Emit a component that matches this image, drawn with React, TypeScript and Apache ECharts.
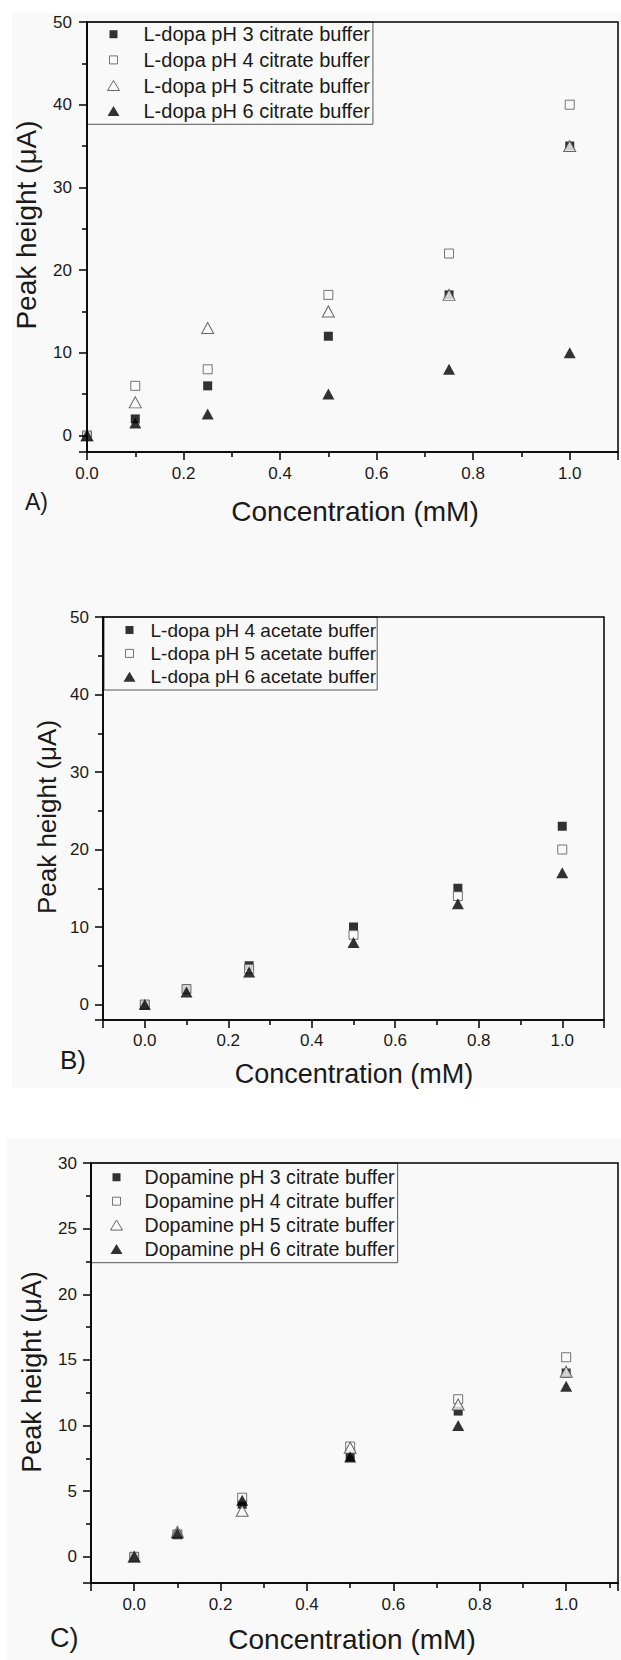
import React, { useEffect, useRef } from "react";
import * as echarts from "echarts";

// ---------- data ----------
const conc = [0, 0.1, 0.25, 0.5, 0.75, 1.0];

// Panel A: L-dopa in citrate buffer
const aNames = [
  "L-dopa pH 3 citrate buffer",
  "L-dopa pH 4 citrate buffer",
  "L-dopa pH 5 citrate buffer",
  "L-dopa pH 6 citrate buffer",
];
const aPH3 = [0, 2, 6, 12, 17, 35];
const aPH4 = [0, 6, 8, 17, 22, 40];
const aPH5 = [0, 4, 13, 15, 17, 35];
const aPH6 = [0, 1.5, 2.6, 5, 8, 10];

// Panel B: L-dopa in acetate buffer
const bNames = [
  "L-dopa pH 4 acetate buffer",
  "L-dopa pH 5 acetate buffer",
  "L-dopa pH 6 acetate buffer",
];
const bPH4 = [0, 2, 5, 10, 15, 23];
const bPH5 = [0, 2, 4.6, 9, 14, 20];
const bPH6 = [0, 1.6, 4.2, 8, 13, 17];

// Panel C: Dopamine in citrate buffer
const cNames = [
  "Dopamine pH 3 citrate buffer",
  "Dopamine pH 4 citrate buffer",
  "Dopamine pH 5 citrate buffer",
  "Dopamine pH 6 citrate buffer",
];
const cPH3 = [0, 1.7, 4.0, 7.6, 11.1, 14.0];
const cPH4 = [0, 1.7, 4.5, 8.4, 12.0, 15.2];
const cPH5 = [0, 1.9, 3.5, 8.3, 11.6, 14.1];
const cPH6 = [0, 1.8, 4.3, 7.6, 10.0, 13.0];

const xTitle = "Concentration (mM)";
const yTitle = "Peak height (\u03bcA)";
const panelLabels = ["A)", "B)", "C)"];

// axis ranges
const xRanges = [
  [0, 1.1],
  [-0.1, 1.1],
  [-0.1, 1.12],
];
const yRanges = [
  [-2, 50],
  [-2, 50],
  [-2, 30],
];
const xLabelStep = 0.2;
const yLabelSteps = [10, 10, 5];

// ---------- styles ----------
const BG = "#f9f9f9";
const FONT = "'Liberation Sans', Arial, sans-serif";
const TXT = "#1a1a1a";

type Kind = "fsq" | "osq" | "otri" | "ftri";
const kindStyle: Record<Kind, any> = {
  fsq: { symbol: "rect", size: 9, itemStyle: { color: "#000", borderWidth: 0 } },
  osq: { symbol: "rect", size: 9, itemStyle: { color: BG, borderColor: "#555", borderWidth: 1 } },
  otri: { symbol: "triangle", size: [12, 11], itemStyle: { color: BG, borderColor: "#444", borderWidth: 1 } },
  ftri: { symbol: "triangle", size: [12, 11], itemStyle: { color: "#000", borderWidth: 0 } },
};

// legend icon as a path whose bounding box equals the legend item box (W x H),
// so that no stretching happens; the marker sits centred in it.
function legendIcon(kind: Kind, W: number, H: number) {
  const cx = W / 2;
  const cy = H / 2;
  const frame = `M0,0L0,0ZM${W},${H}L${W},${H}Z`;
  let shape = "";
  if (kind === "fsq" || kind === "osq") {
    const h = 4;
    shape = `M${cx - h},${cy - h}L${cx + h},${cy - h}L${cx + h},${cy + h}L${cx - h},${cy + h}Z`;
  } else {
    shape = `M${cx},${cy - 5}L${cx + 6},${cy + 5}L${cx - 6},${cy + 5}Z`;
  }
  return `path://${frame}${shape}`;
}

function mkSeries(name: string, vals: number[], idx: number, kind: Kind) {
  const k = kindStyle[kind];
  return {
    type: "scatter",
    name,
    xAxisIndex: idx,
    yAxisIndex: idx,
    data: conc.map((c, i) => [c, vals[i]]),
    symbol: k.symbol,
    symbolSize: k.size,
    itemStyle: k.itemStyle,
    clip: false,
    emphasis: { disabled: true },
  };
}

const LEG_H = 12;
function mkLegend(names: string[], kinds: Kind[], cfg: any) {
  return {
    orient: "vertical",
    left: cfg.left,
    top: cfg.top,
    padding: cfg.padding,
    itemWidth: cfg.itemWidth,
    itemHeight: LEG_H,
    itemGap: cfg.gap,
    borderColor: "#555",
    borderWidth: 1,
    backgroundColor: BG,
    selectedMode: false,
    z: 2,
    textStyle: { fontSize: cfg.fontSize, lineHeight: cfg.lineHeight, color: TXT, fontFamily: FONT },
    data: names.map((n, i) => ({
      name: n,
      icon: legendIcon(kinds[i], cfg.itemWidth, LEG_H),
      itemStyle: kindStyle[kinds[i]].itemStyle,
    })),
  };
}

const xFmt = (v: number) => {
  const k = v / xLabelStep;
  return Math.abs(k - Math.round(k)) < 1e-6 ? (Math.abs(v) < 1e-9 ? 0 : v).toFixed(1) : "";
};
const yFmt = (step: number) => (v: number) => {
  const k = v / step;
  return Math.abs(k - Math.round(k)) < 1e-6 ? String(Math.round(v)) : "";
};

const axisCommon = {
  type: "value",
  z: 3,
  axisLine: { onZero: false, lineStyle: { color: "#000", width: 1.5 } },
  axisTick: { length: 8, lineStyle: { color: "#000", width: 1.5 } },
  minorTick: { show: true, splitNumber: 2, length: 5, lineStyle: { color: "#000", width: 1.5 } },
  splitLine: { show: false },
};

export default function App() {
  const ref = useRef<HTMLDivElement>(null);

  useEffect(() => {
    if (!ref.current) return;
    const chart = echarts.init(ref.current, undefined, { renderer: "svg" });

    const gridCommon = { show: true, borderColor: "#000", borderWidth: 1.5, backgroundColor: "transparent", z: 3 };

    const yMargins = [15, 14, 14];
    const xMargins = [13, 12, 13];

    const option: any = {
      animation: false,
      textStyle: { fontFamily: FONT },
      grid: [
        { ...gridCommon, left: 87, top: 22, width: 536, height: 430 },
        { ...gridCommon, left: 103, top: 617, width: 501, height: 403 },
        { ...gridCommon, left: 91, top: 1163, width: 533, height: 420 },
      ],
      xAxis: [0, 1, 2].map((i) => ({
        ...axisCommon,
        gridIndex: i,
        min: xRanges[i][0],
        max: xRanges[i][1],
        splitNumber: i === 0 ? 5 : 6,
        axisLabel: { fontSize: 17, color: TXT, margin: xMargins[i], formatter: xFmt, fontFamily: FONT },
      })),
      yAxis: [0, 1, 2].map((i) => ({
        ...axisCommon,
        gridIndex: i,
        min: yRanges[i][0],
        max: yRanges[i][1],
        splitNumber: i === 2 ? 6 : 5,
        axisLabel: { fontSize: 17, color: TXT, margin: yMargins[i], formatter: yFmt(yLabelSteps[i]), fontFamily: FONT },
      })),
      legend: [
        mkLegend(aNames, ["fsq", "osq", "otri", "ftri"], {
          left: 87, top: 22, padding: [1.3, 3, 2.2, 1], itemWidth: 50, gap: 3.6, fontSize: 20, lineHeight: 22,
        }),
        mkLegend(bNames, ["fsq", "osq", "ftri"], {
          left: 104, top: 617, padding: [3, 1, 3.2, 9], itemWidth: 32, gap: 3.4, fontSize: 19, lineHeight: 20,
        }),
        mkLegend(cNames, ["fsq", "osq", "otri", "ftri"], {
          left: 91, top: 1163, padding: [4.3, 3, 3.7, 2], itemWidth: 46, gap: 3.9, fontSize: 19.6, lineHeight: 20,
        }),
      ],
      series: [
        mkSeries(aNames[0], aPH3, 0, "fsq"),
        mkSeries(aNames[1], aPH4, 0, "osq"),
        mkSeries(aNames[2], aPH5, 0, "otri"),
        mkSeries(aNames[3], aPH6, 0, "ftri"),
        mkSeries(bNames[0], bPH4, 1, "fsq"),
        mkSeries(bNames[1], bPH5, 1, "osq"),
        mkSeries(bNames[2], bPH6, 1, "ftri"),
        mkSeries(cNames[0], cPH3, 2, "fsq"),
        mkSeries(cNames[1], cPH4, 2, "osq"),
        mkSeries(cNames[2], cPH5, 2, "otri"),
        mkSeries(cNames[3], cPH6, 2, "ftri"),
      ],
      graphic: {
        elements: [
          { type: "rect", z: -10, shape: { x: 12, y: 13, width: 620, height: 1075 }, style: { fill: BG } },
          { type: "rect", z: -10, shape: { x: 7, y: 1138, width: 620, height: 530 }, style: { fill: BG } },
          // axis titles and panel labels
          { type: "text", x: 355, y: 511, style: { text: xTitle, fontSize: 28, fill: TXT, fontFamily: FONT, textAlign: "center", textVerticalAlign: "middle" } },
          { type: "text", x: 26, y: 225, rotation: Math.PI / 2, style: { text: yTitle, fontSize: 28, fill: TXT, fontFamily: FONT, textAlign: "center", textVerticalAlign: "middle" } },
          { type: "text", x: 25, y: 502, style: { text: panelLabels[0], fontSize: 23, fill: TXT, fontFamily: FONT, textAlign: "left", textVerticalAlign: "middle" } },

          { type: "text", x: 354, y: 1074, style: { text: xTitle, fontSize: 27, fill: TXT, fontFamily: FONT, textAlign: "center", textVerticalAlign: "middle" } },
          { type: "text", x: 47, y: 817, rotation: Math.PI / 2, style: { text: yTitle, fontSize: 26, fill: TXT, fontFamily: FONT, textAlign: "center", textVerticalAlign: "middle" } },
          { type: "text", x: 60, y: 1060, style: { text: panelLabels[1], fontSize: 26, fill: TXT, fontFamily: FONT, textAlign: "left", textVerticalAlign: "middle" } },

          { type: "text", x: 352, y: 1639, style: { text: xTitle, fontSize: 28, fill: TXT, fontFamily: FONT, textAlign: "center", textVerticalAlign: "middle" } },
          { type: "text", x: 32, y: 1372, rotation: Math.PI / 2, style: { text: yTitle, fontSize: 27, fill: TXT, fontFamily: FONT, textAlign: "center", textVerticalAlign: "middle" } },
          { type: "text", x: 50, y: 1638, style: { text: panelLabels[2], fontSize: 27, fill: TXT, fontFamily: FONT, textAlign: "left", textVerticalAlign: "middle" } },
        ],
      },
    };

    chart.setOption(option);
    return () => chart.dispose();
  }, []);

  return (
    <div
      ref={ref}
      style={{ position: "absolute", left: 0, top: 0, width: 621, height: 1660, background: "#fff" }}
    />
  );
}
